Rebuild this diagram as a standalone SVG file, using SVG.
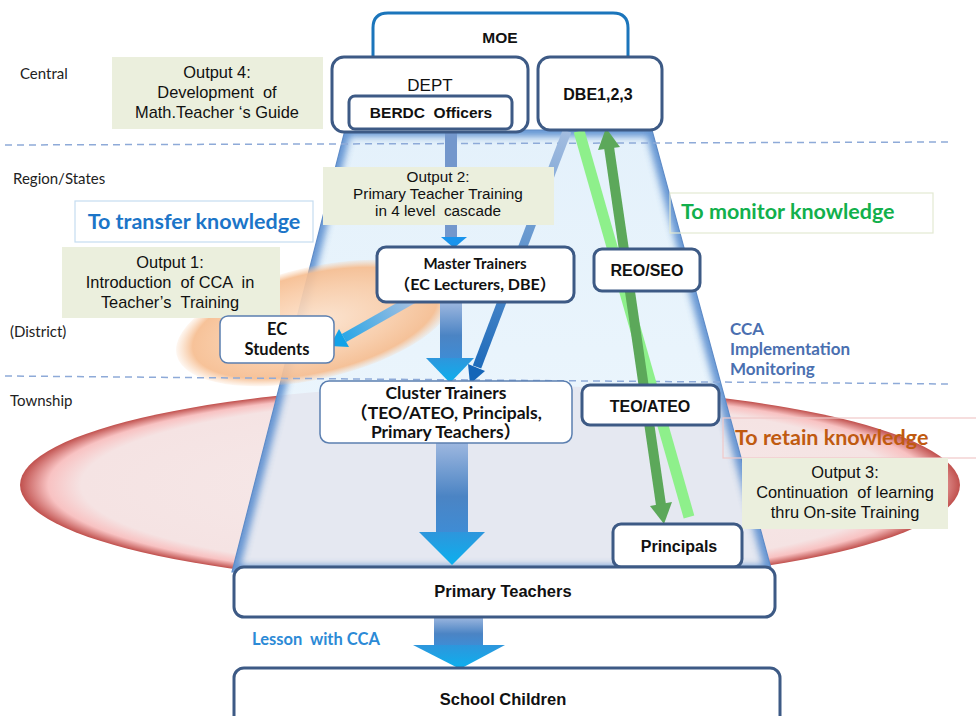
<svg xmlns="http://www.w3.org/2000/svg" width="976" height="716" viewBox="0 0 976 716">
<style>
.box{fill:#fff;stroke:#3d5a85;stroke-width:3}
.thin{fill:#fff;stroke:#5b7fb0;stroke-width:1.5}
.out{fill:#ebefdd}
.ar{font-family:"Liberation Sans",Arial,sans-serif;fill:#111}
.cal{font-family:Lato,"Noto Sans CJK SC",sans-serif;fill:#111}
.b{font-weight:bold}
.o{font-size:16.4px}
.side{font-family:Lato,"Liberation Sans",sans-serif;font-size:15px;fill:#222}
.dash{stroke:#8eaad8;stroke-width:1.5;stroke-dasharray:7 5;fill:none}
</style>
<defs>
<radialGradient id="redG" cx="0.5" cy="0.5" r="0.5">
<stop offset="0" stop-color="#f6eaea"/>
<stop offset="0.87" stop-color="#f5e3e3"/>
<stop offset="0.94" stop-color="#f8c2c2"/>
<stop offset="1" stop-color="#c0504d"/>
</radialGradient>
<radialGradient id="orG" cx="0.5" cy="0.5" r="0.5">
<stop offset="0" stop-color="#fde4cf"/>
<stop offset="0.6" stop-color="#f9cba6"/>
<stop offset="0.88" stop-color="#f6bd90"/>
<stop offset="1" stop-color="#f8c8a0" stop-opacity="0.15"/>
</radialGradient>
<linearGradient id="trapG" x1="0" y1="0" x2="0" y2="1">
<stop offset="0" stop-color="#e4f1fb"/>
<stop offset="1" stop-color="#eef7fd"/>
</linearGradient>
<linearGradient id="shaftG" x1="0" y1="0" x2="0" y2="1">
<stop offset="0" stop-color="#9db7df"/>
<stop offset="0.6" stop-color="#4b84c4"/>
<stop offset="1" stop-color="#3f8cd4"/>
</linearGradient>
<linearGradient id="headG" x1="0" y1="0" x2="0" y2="1">
<stop offset="0" stop-color="#2e96dc"/>
<stop offset="1" stop-color="#0bb0ee"/>
</linearGradient>
<linearGradient id="blueDiag" gradientUnits="userSpaceOnUse" x1="567" y1="131" x2="470" y2="384">
<stop offset="0" stop-color="#a3bde0"/>
<stop offset="1" stop-color="#1465b8"/>
</linearGradient>
<linearGradient id="ecG" gradientUnits="userSpaceOnUse" x1="413" y1="299" x2="330" y2="346">
<stop offset="0" stop-color="#a8bfe0"/>
<stop offset="1" stop-color="#12a2e8"/>
</linearGradient>
<clipPath id="trapClip"><polygon points="345,130 652,130 772,572 232,572"/></clipPath>
<filter id="blur" x="-0.1" y="-0.1" width="1.2" height="1.2"><feGaussianBlur stdDeviation="3.5"/></filter>
</defs>

<g id="background">
<ellipse cx="490" cy="485" rx="470" ry="100" fill="url(#redG)"/>
<g clip-path="url(#trapClip)">
<polygon points="345,130 652,130 772,572 232,572" fill="url(#trapG)"/>
<ellipse cx="490" cy="485" rx="470" ry="100" fill="#e5e8f1"/>
<polygon points="345,130 652,130 772,572 232,572" fill="none" stroke="#4f86cc" stroke-width="13" opacity="0.85" filter="url(#blur)"/>
</g>
<polygon points="345,130 652,130 772,572 232,572" fill="none" stroke="#5f8cc8" stroke-width="1.2"/>
<ellipse cx="315" cy="323" rx="142" ry="56" transform="rotate(-13 315 323)" fill="url(#orG)" opacity="0.92"/>
<line class="dash" x1="5" y1="145" x2="950" y2="142"/>
<line class="dash" x1="5" y1="376" x2="950" y2="384"/>
<text class="side" x="20" y="79">Central</text>
<text class="side" x="13" y="184">Region/States</text>
<text class="side" x="10" y="337">(District)</text>
<text class="side" x="10" y="406">Township</text>
<rect x="75" y="201" width="238" height="41" fill="none" stroke="#c5ddf0" stroke-width="1.2"/>
<text class="cal b" x="194" y="229" font-size="21.5" text-anchor="middle" style="fill:#1c75c8">To transfer knowledge</text>
<rect x="670" y="193" width="263" height="40" fill="none" stroke="#e3e9d3" stroke-width="1.2"/>
<text class="cal b" x="681" y="219" font-size="21.5" style="fill:#12b04c">To monitor knowledge</text>
<rect x="723" y="418" width="260" height="40" fill="none" stroke="#f0c8c8" stroke-width="1.2"/>
<text class="cal b" x="735" y="445" font-size="21.5" style="fill:#c05a10">To retain knowledge</text>
<text class="cal b" font-size="17" style="fill:#4a6fb0"><tspan x="730" y="335">CCA</tspan><tspan x="730" y="355">Implementation</tspan><tspan x="730" y="375">Monitoring</tspan></text>
<text class="cal b" x="252" y="645" font-size="16.5" style="fill:#2c8ad6">Lesson &#160;with CCA</text>
</g>

<g id="connectors">
<rect x="445" y="130" width="12" height="107" fill="#7397cc"/>
<polygon points="441,237 467,237 454,248" fill="#1a94ec"/>
<rect x="440" y="302" width="22" height="56" fill="url(#shaftG)"/>
<polygon points="426,358 474,358 450,383" fill="url(#headG)"/>
<rect x="436" y="443" width="32" height="89" fill="url(#shaftG)"/>
<polygon points="419,532 485,532 452,565" fill="url(#headG)"/>
<rect x="434" y="617" width="49" height="28" fill="url(#shaftG)"/>
<polygon points="413,645 505,645 460,669" fill="url(#headG)"/>
<line x1="413" y1="299" x2="344" y2="338" stroke="url(#ecG)" stroke-width="9"/>
<polygon points="330,346 349,347 339,329" fill="#12a2e8"/>
<line x1="567" y1="131" x2="477" y2="367" stroke="url(#blueDiag)" stroke-width="9"/>
<polygon points="470,384 485,371 468,364" fill="#1465b8"/>
<line x1="579" y1="131" x2="689" y2="517" stroke="#8ef08b" stroke-width="11"/>
<line x1="609" y1="147" x2="661" y2="505" stroke="#5ca85a" stroke-width="10"/>
<polygon points="606,128 620,147 598,150" fill="#5ca85a"/>
<polygon points="664,524 672,502 650,506" fill="#5ca85a"/>
</g>

<g id="moe"><path class="box" d="M373,70 V28 Q373,13 388,13 H613 Q628,13 628,28 V70" style="stroke:#1b75bb"/>
<text class="ar b" x="500" y="43" font-size="15.5" text-anchor="middle">MOE</text></g>
<g id="dept"><rect class="box" x="332" y="57" width="196" height="75" rx="12"/>
<text class="ar" x="430" y="91" font-size="17" text-anchor="middle">DEPT</text></g>
<g id="berdc"><rect class="box" x="349" y="96" width="163" height="33" rx="6"/>
<text class="ar b" x="431" y="118" font-size="15.5" text-anchor="middle">BERDC &#160;Officers</text></g>
<g id="dbe"><rect class="box" x="538" y="57" width="124" height="73" rx="12"/>
<text class="ar b" x="598" y="100" font-size="16" text-anchor="middle">DBE1,2,3</text></g>
<g id="output4"><rect class="out" x="112" y="57" width="211" height="72"/>
<text class="ar o" text-anchor="middle"><tspan x="217" y="78">Output 4:</tspan><tspan x="217" y="98">Development &#160;of</tspan><tspan x="217" y="118">Math.Teacher ‘s Guide</tspan></text></g>
<g id="output2"><rect class="out" x="323" y="167" width="231" height="58"/>
<text class="ar" font-size="15.3" text-anchor="middle"><tspan x="438" y="182">Output 2:</tspan><tspan x="438" y="199">Primary Teacher Training</tspan><tspan x="438" y="216">in 4 level &#160;cascade</tspan></text></g>
<g id="output1"><rect class="out" x="62" y="247" width="218" height="71"/>
<text class="ar o" text-anchor="middle"><tspan x="170" y="268">Output 1:</tspan><tspan x="170" y="288">Introduction &#160;of CCA &#160;in</tspan><tspan x="170" y="308">Teacher’s &#160;Training</tspan></text></g>
<g id="output3"><rect class="out" x="742" y="458" width="206" height="71"/>
<text class="ar o" text-anchor="middle"><tspan x="845" y="478">Output 3:</tspan><tspan x="845" y="498">Continuation &#160;of learning</tspan><tspan x="845" y="518">thru On-site Training</tspan></text></g>
<g id="master"><rect class="box" x="377" y="247" width="197" height="55" rx="9"/>
<text class="cal b" x="475" y="269" font-size="15" text-anchor="middle">Master Trainers</text>
<text class="cal b" x="475" y="290" font-size="16" text-anchor="middle">（EC Lecturers, DBE）</text></g>
<g id="ecstudents"><rect class="thin" x="220" y="316" width="114" height="47" rx="8"/>
<text class="cal b" x="277" y="335" font-size="16.5" text-anchor="middle">EC</text>
<text class="cal b" x="277" y="355" font-size="16.5" text-anchor="middle">Students</text></g>
<g id="cluster"><rect class="thin" x="320" y="381" width="252" height="62" rx="9"/>
<text class="cal b" font-size="17.5" text-anchor="middle"><tspan x="446" y="399">Cluster Trainers</tspan><tspan x="446" y="419">（TEO/ATEO, Principals,</tspan><tspan x="446" y="438">Primary Teachers）</tspan></text></g>
<g id="reoseo"><rect class="box" x="594" y="249" width="106" height="42" rx="8"/>
<text class="ar b" x="647" y="276" font-size="16" text-anchor="middle">REO/SEO</text></g>
<g id="teoateo"><rect class="box" x="582" y="385" width="137" height="40" rx="8"/>
<text class="ar b" x="650" y="412" font-size="16" text-anchor="middle">TEO/ATEO</text></g>
<g id="principals"><rect class="box" x="613" y="524" width="129" height="43" rx="8"/>
<text class="ar b" x="679" y="552" font-size="16" text-anchor="middle">Principals</text></g>
<g id="primary"><rect class="box" x="234" y="567" width="541" height="50" rx="10"/>
<text class="ar b" x="503" y="597" font-size="16.5" text-anchor="middle">Primary Teachers</text></g>
<g id="school"><rect class="box" x="234" y="668" width="546" height="60" rx="10"/>
<text class="ar b" x="503" y="705" font-size="16.5" text-anchor="middle">School Children</text></g>
</svg>
